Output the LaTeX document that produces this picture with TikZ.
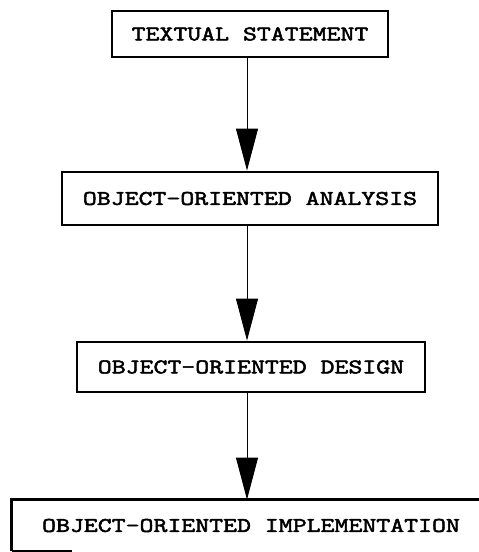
\documentclass[tikz,border=0pt]{standalone}
\usepackage{fontspec}
\newfontfamily\stagefont{Latin Modern Mono}[FakeStretch=1.3, FakeBold=2.5]
\usetikzlibrary{arrows.meta}
\begin{document}
\begin{tikzpicture}[x=1pt,y=-1pt,
  stage/.style={font=\stagefont\fontsize{20.8}{22}\selectfont,
    inner sep=0pt, line width=2.8pt},
  flow/.style={line width=0.9pt, -{Triangle[length=42pt,width=22pt]}}
]
\clip (0,0) rectangle (479,552);

% the four stages, top to bottom
\node[stage, draw, minimum width=276pt, minimum height=46pt] (txt) at (250,34) {TEXTUAL STATEMENT};
\node[stage, draw, minimum width=376pt, minimum height=53pt] (ana) at (250,198.5) {OBJECT-ORIENTED ANALYSIS};
\node[stage, draw, minimum width=348pt, minimum height=50pt] (des) at (251,367) {OBJECT-ORIENTED DESIGN};
\node[stage, minimum width=476pt, minimum height=49pt] (imp) at (251,525.5) {OBJECT-ORIENTED IMPLEMENTATION};

% last box: it runs off the right of the page, its bottom edge is broken
\draw[line width=2.8pt] (imp.south west) -- (imp.north west) -- ([xshift=40pt]imp.north east);
\draw[line width=2.8pt] (imp.south west) -- ++(60,0);

% connectors
\draw[flow] ([xshift=-3pt]txt.south) -- ([xshift=-3pt]txt.south |- ana.north);
\draw[flow] ([xshift=-3pt]ana.south) -- ([xshift=-3pt]ana.south |- des.north);
\draw[flow] ([xshift=-4pt]des.south) -- ([xshift=-4pt]des.south |- imp.north);
\end{tikzpicture}
\end{document}
